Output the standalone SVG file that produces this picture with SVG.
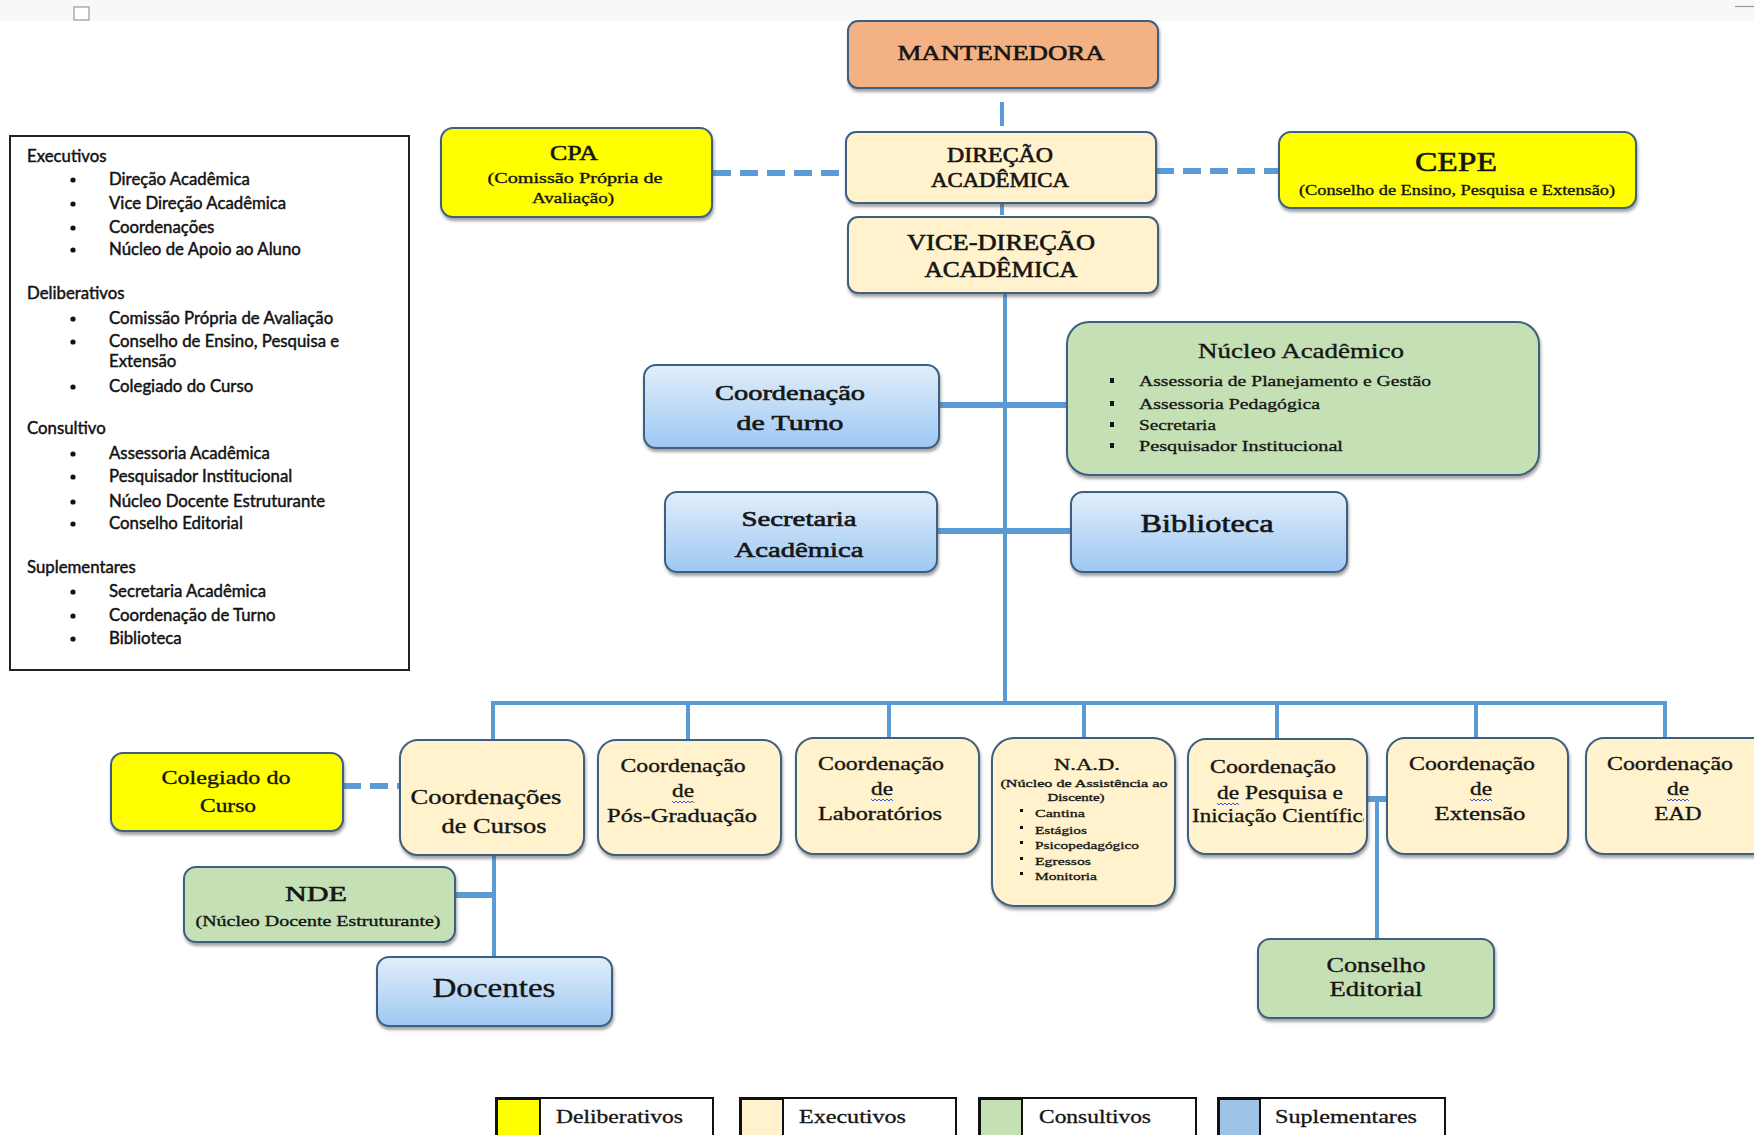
<svg xmlns="http://www.w3.org/2000/svg" width="1754" height="1135" viewBox="0 0 1754 1135">
<style>
.n{stroke:#3d5f82;stroke-width:2;filter:url(#sh)}
.y{fill:#ffff00}.c{fill:#fff2cc}.g{fill:#c5e0b4}.bl{fill:url(#blue)}.s{fill:#f4b183}
.t{font-family:"Liberation Serif","Times New Roman",serif;fill:#151515;text-anchor:middle;stroke:#151515;stroke-width:0.35}
.tb{stroke:#151515;stroke-width:0.6}
.tl{font-family:"Liberation Serif","Times New Roman",serif;fill:#151515;stroke:#151515;stroke-width:0.3}
.ln{stroke:#5b9bd5;stroke-width:4;fill:none}
.lw{stroke:#5b9bd5;stroke-width:6;fill:none}
.dash{stroke:#5b9bd5;stroke-width:6;stroke-dasharray:18 9;fill:none}
.lg{font-family:Lato,"Liberation Sans",sans-serif;font-size:16.8px;fill:#111;stroke:#111;stroke-width:0.45}
.wv{stroke:#3355dd;stroke-width:1;fill:none}
.key{fill:#fff;stroke:#111;stroke-width:2}
</style>
<defs>
<linearGradient id="blue" x1="0" y1="0" x2="0" y2="1">
<stop offset="0" stop-color="#e1eefb"/>
<stop offset="1" stop-color="#9ec8f2"/>
</linearGradient>
<filter id="sh" x="-10%" y="-10%" width="120%" height="130%">
<feDropShadow dx="1" dy="3" stdDeviation="1.5" flood-color="#444" flood-opacity="0.5"/>
</filter>
<clipPath id="clipPq"><rect x="1189" y="741" width="175" height="112"/></clipPath>
</defs>
<rect x="0" y="0" width="1754" height="1135" fill="#fff"/>
<rect x="0" y="0" width="1754" height="21" fill="#f8f8f8"/>
<rect x="74" y="7" width="15" height="13" fill="#fff" stroke="#999" stroke-width="1.2"/>
<line x1="1735" y1="6.5" x2="1754" y2="6.5" stroke="#999" stroke-width="1.2"/>

<g id="legenda">
<rect x="10" y="136" width="399" height="534" fill="#fff" stroke="#222" stroke-width="2"/>
<text class="lg" x="27" y="162">Executivos</text>
<circle cx="73" cy="180" r="2.6" fill="#111"/><text class="lg" x="109" y="185">Direção Acadêmica</text>
<circle cx="73" cy="204" r="2.6" fill="#111"/><text class="lg" x="109" y="209">Vice Direção Acadêmica</text>
<circle cx="73" cy="228" r="2.6" fill="#111"/><text class="lg" x="109" y="233">Coordenações</text>
<circle cx="73" cy="250" r="2.6" fill="#111"/><text class="lg" x="109" y="255">Núcleo de Apoio ao Aluno</text>
<text class="lg" x="27" y="299">Deliberativos</text>
<circle cx="73" cy="319" r="2.6" fill="#111"/><text class="lg" x="109" y="324">Comissão Própria de Avaliação</text>
<circle cx="73" cy="342" r="2.6" fill="#111"/><text class="lg" x="109" y="347">Conselho de Ensino, Pesquisa e</text>
<text class="lg" x="109" y="367">Extensão</text>
<circle cx="73" cy="387" r="2.6" fill="#111"/><text class="lg" x="109" y="392">Colegiado do Curso</text>
<text class="lg" x="27" y="434">Consultivo</text>
<circle cx="73" cy="454" r="2.6" fill="#111"/><text class="lg" x="109" y="459">Assessoria Acadêmica</text>
<circle cx="73" cy="477" r="2.6" fill="#111"/><text class="lg" x="109" y="482">Pesquisador Institucional</text>
<circle cx="73" cy="502" r="2.6" fill="#111"/><text class="lg" x="109" y="507">Núcleo Docente Estruturante</text>
<circle cx="73" cy="524" r="2.6" fill="#111"/><text class="lg" x="109" y="529">Conselho Editorial</text>
<text class="lg" x="27" y="573">Suplementares</text>
<circle cx="73" cy="592" r="2.6" fill="#111"/><text class="lg" x="109" y="597">Secretaria Acadêmica</text>
<circle cx="73" cy="616" r="2.6" fill="#111"/><text class="lg" x="109" y="621">Coordenação de Turno</text>
<circle cx="73" cy="639" r="2.6" fill="#111"/><text class="lg" x="109" y="644">Biblioteca</text>
</g>

<g id="conectores">
<line class="ln" x1="1002" y1="102" x2="1002" y2="126"/>
<line class="ln" x1="1002" y1="203" x2="1002" y2="215"/>
<line class="dash" x1="713" y1="173" x2="846" y2="173"/>
<line class="dash" x1="1156" y1="171" x2="1279" y2="171"/>
<line class="ln" x1="1005" y1="293" x2="1005" y2="705"/>
<line class="lw" x1="939" y1="405" x2="1067" y2="405"/>
<line class="lw" x1="937" y1="531" x2="1071" y2="531"/>
<line class="ln" x1="491" y1="703" x2="1667" y2="703"/>
<line class="ln" x1="493" y1="703" x2="493" y2="740"/>
<line class="ln" x1="688" y1="703" x2="688" y2="740"/>
<line class="ln" x1="889" y1="703" x2="889" y2="738"/>
<line class="ln" x1="1084" y1="703" x2="1084" y2="738"/>
<line class="ln" x1="1277" y1="703" x2="1277" y2="740"/>
<line class="ln" x1="1476" y1="703" x2="1476" y2="738"/>
<line class="ln" x1="1665" y1="703" x2="1665" y2="738"/>
<line class="dash" x1="343" y1="786" x2="400" y2="786"/>
<line class="ln" x1="494" y1="855" x2="494" y2="957"/>
<line class="lw" x1="455" y1="895" x2="494" y2="895"/>
<line class="lw" x1="1367" y1="799" x2="1387" y2="799"/>
<line class="ln" x1="1377" y1="799" x2="1377" y2="939"/>
</g>

<g id="mantenedora">
<rect class="n s" x="848" y="21" width="310" height="67" rx="10"/>
<text class="t tb" x="1001" y="60" font-size="22" textLength="207" lengthAdjust="spacingAndGlyphs">MANTENEDORA</text>
</g>
<g id="direcao">
<rect class="n c" x="846" y="132" width="310" height="71" rx="10"/>
<text class="t tb" x="1000" y="162" font-size="20" textLength="106" lengthAdjust="spacingAndGlyphs">DIREÇÃO</text>
<text class="t tb" x="1000" y="187" font-size="20" textLength="138" lengthAdjust="spacingAndGlyphs">ACADÊMICA</text>
</g>
<g id="vice-direcao">
<rect class="n c" x="848" y="217" width="310" height="76" rx="10"/>
<text class="t tb" x="1001" y="250" font-size="23" textLength="188" lengthAdjust="spacingAndGlyphs">VICE-DIREÇÃO</text>
<text class="t tb" x="1001" y="277" font-size="23" textLength="153" lengthAdjust="spacingAndGlyphs">ACADÊMICA</text>
</g>
<g id="cpa">
<rect class="n y" x="441" y="128" width="271" height="89" rx="12"/>
<text class="t tb" x="574" y="160" font-size="22" textLength="48" lengthAdjust="spacingAndGlyphs">CPA</text>
<text class="t" x="575" y="183" font-size="15" textLength="175" lengthAdjust="spacingAndGlyphs">(Comissão Própria de</text>
<text class="t" x="573" y="203" font-size="15" textLength="82" lengthAdjust="spacingAndGlyphs">Avaliação)</text>
</g>
<g id="cepe">
<rect class="n y" x="1279" y="132" width="357" height="76" rx="12"/>
<text class="t tb" x="1456" y="171" font-size="28" textLength="82" lengthAdjust="spacingAndGlyphs">CEPE</text>
<text class="t" x="1457" y="195" font-size="15" textLength="316" lengthAdjust="spacingAndGlyphs">(Conselho de Ensino, Pesquisa e Extensão)</text>
</g>
<g id="coord-turno">
<rect class="n bl" x="644" y="365" width="295" height="83" rx="12"/>
<text class="t tb" x="790" y="400" font-size="22" textLength="150" lengthAdjust="spacingAndGlyphs">Coordenação</text>
<text class="t tb" x="790" y="430" font-size="22" textLength="107" lengthAdjust="spacingAndGlyphs">de Turno</text>
</g>
<g id="nucleo-academico">
<rect class="n g" x="1067" y="322" width="472" height="153" rx="22"/>
<text class="t" x="1301" y="358" font-size="21" textLength="206" lengthAdjust="spacingAndGlyphs">Núcleo Acadêmico</text>
<rect x="1110" y="378" width="4" height="5" fill="#111"/>
<text class="tl" x="1139" y="386" font-size="15" textLength="292" lengthAdjust="spacingAndGlyphs">Assessoria de Planejamento e Gestão</text>
<rect x="1110" y="401" width="4" height="5" fill="#111"/>
<text class="tl" x="1139" y="409" font-size="15" textLength="181" lengthAdjust="spacingAndGlyphs">Assessoria Pedagógica</text>
<rect x="1110" y="422" width="4" height="5" fill="#111"/>
<text class="tl" x="1139" y="430" font-size="15" textLength="77" lengthAdjust="spacingAndGlyphs">Secretaria</text>
<rect x="1110" y="443" width="4" height="5" fill="#111"/>
<text class="tl" x="1139" y="451" font-size="15" textLength="204" lengthAdjust="spacingAndGlyphs">Pesquisador Institucional</text>
</g>
<g id="secretaria">
<rect class="n bl" x="665" y="492" width="272" height="80" rx="12"/>
<text class="t tb" x="799" y="526" font-size="22" textLength="115" lengthAdjust="spacingAndGlyphs">Secretaria</text>
<text class="t tb" x="799" y="557" font-size="22" textLength="129" lengthAdjust="spacingAndGlyphs">Acadêmica</text>
</g>
<g id="biblioteca">
<rect class="n bl" x="1071" y="492" width="276" height="80" rx="12"/>
<text class="t tb" x="1207" y="532" font-size="26" textLength="133" lengthAdjust="spacingAndGlyphs">Biblioteca</text>
</g>
<g id="colegiado">
<rect class="n y" x="111" y="753" width="232" height="78" rx="12"/>
<text class="t" x="226" y="784" font-size="19" textLength="129" lengthAdjust="spacingAndGlyphs">Colegiado do</text>
<text class="t" x="228" y="812" font-size="19" textLength="56" lengthAdjust="spacingAndGlyphs">Curso</text>
</g>
<g id="coord-cursos">
<rect class="n c" x="400" y="740" width="184" height="115" rx="18"/>
<text class="t" x="486" y="804" font-size="21" textLength="151" lengthAdjust="spacingAndGlyphs">Coordenações</text>
<text class="t" x="494" y="833" font-size="21" textLength="105" lengthAdjust="spacingAndGlyphs">de Cursos</text>
</g>
<g id="coord-pos">
<rect class="n c" x="598" y="740" width="183" height="115" rx="18"/>
<text class="t" x="683" y="772" font-size="19" textLength="125" lengthAdjust="spacingAndGlyphs">Coordenação</text>
<text class="t" x="683" y="797" font-size="19" textLength="22" lengthAdjust="spacingAndGlyphs">de</text>
<path class="wv" d="M672 801 l2 2 l2 -2 l2 2 l2 -2 l2 2 l2 -2 l2 2 l2 -2 l2 2 l2 -2 l2 2"/>
<text class="t" x="682" y="822" font-size="19" textLength="150" lengthAdjust="spacingAndGlyphs">Pós-Graduação</text>
</g>
<g id="coord-lab">
<rect class="n c" x="796" y="738" width="183" height="116" rx="18"/>
<text class="t" x="881" y="770" font-size="19" textLength="126" lengthAdjust="spacingAndGlyphs">Coordenação</text>
<text class="t" x="882" y="795" font-size="19" textLength="22" lengthAdjust="spacingAndGlyphs">de</text>
<path class="wv" d="M871 799 l2 2 l2 -2 l2 2 l2 -2 l2 2 l2 -2 l2 2 l2 -2 l2 2 l2 -2 l2 2"/>
<text class="t" x="880" y="820" font-size="19" textLength="124" lengthAdjust="spacingAndGlyphs">Laboratórios</text>
</g>
<g id="nad">
<rect class="n c" x="992" y="738" width="183" height="168" rx="22"/>
<text class="t" x="1087" y="770" font-size="17" textLength="66" lengthAdjust="spacingAndGlyphs">N.A.D.</text>
<text class="t" x="1084" y="787" font-size="11" textLength="167" lengthAdjust="spacingAndGlyphs">(Núcleo de Assistência ao</text>
<text class="t" x="1076" y="801" font-size="11" textLength="57" lengthAdjust="spacingAndGlyphs">Discente)</text>
<rect x="1020" y="809" width="3" height="3" fill="#111"/>
<text class="tl tb" x="1035" y="817" font-size="11" textLength="50" lengthAdjust="spacingAndGlyphs">Cantina</text>
<rect x="1020" y="826" width="3" height="3" fill="#111"/>
<text class="tl tb" x="1035" y="834" font-size="11" textLength="52" lengthAdjust="spacingAndGlyphs">Estágios</text>
<rect x="1020" y="841" width="3" height="3" fill="#111"/>
<text class="tl tb" x="1035" y="849" font-size="11" textLength="104" lengthAdjust="spacingAndGlyphs">Psicopedagógico</text>
<rect x="1020" y="857" width="3" height="3" fill="#111"/>
<text class="tl tb" x="1035" y="865" font-size="11" textLength="56" lengthAdjust="spacingAndGlyphs">Egressos</text>
<rect x="1020" y="872" width="3" height="3" fill="#111"/>
<text class="tl tb" x="1035" y="880" font-size="11" textLength="62" lengthAdjust="spacingAndGlyphs">Monitoria</text>
</g>
<g id="coord-pesquisa">
<rect class="n c" x="1188" y="739" width="179" height="115" rx="18"/>
<text class="t" x="1273" y="773" font-size="19" textLength="126" lengthAdjust="spacingAndGlyphs">Coordenação</text>
<text class="t" x="1280" y="799" font-size="19" textLength="126" lengthAdjust="spacingAndGlyphs">de Pesquisa e</text>
<path class="wv" d="M1217 803 l2 2 l2 -2 l2 2 l2 -2 l2 2 l2 -2 l2 2 l2 -2 l2 2 l2 -2 l2 2"/>
<text class="tl" x="1192" y="822" font-size="19" textLength="181" lengthAdjust="spacingAndGlyphs" clip-path="url(#clipPq)">Iniciação Científica</text>
</g>
<g id="coord-extensao">
<rect class="n c" x="1387" y="738" width="181" height="116" rx="18"/>
<text class="t" x="1472" y="770" font-size="19" textLength="126" lengthAdjust="spacingAndGlyphs">Coordenação</text>
<text class="t" x="1481" y="795" font-size="19" textLength="22" lengthAdjust="spacingAndGlyphs">de</text>
<path class="wv" d="M1470 799 l2 2 l2 -2 l2 2 l2 -2 l2 2 l2 -2 l2 2 l2 -2 l2 2 l2 -2 l2 2"/>
<text class="t" x="1480" y="820" font-size="19" textLength="91" lengthAdjust="spacingAndGlyphs">Extensão</text>
</g>
<g id="coord-ead">
<rect class="n c" x="1586" y="738" width="190" height="116" rx="18"/>
<text class="t" x="1670" y="770" font-size="19" textLength="126" lengthAdjust="spacingAndGlyphs">Coordenação</text>
<text class="t" x="1678" y="795" font-size="19" textLength="22" lengthAdjust="spacingAndGlyphs">de</text>
<path class="wv" d="M1667 799 l2 2 l2 -2 l2 2 l2 -2 l2 2 l2 -2 l2 2 l2 -2 l2 2 l2 -2 l2 2"/>
<text class="t" x="1678" y="820" font-size="19" textLength="47" lengthAdjust="spacingAndGlyphs">EAD</text>
</g>
<g id="nde">
<rect class="n g" x="184" y="867" width="271" height="75" rx="12"/>
<text class="t tb" x="316" y="901" font-size="22" textLength="62" lengthAdjust="spacingAndGlyphs">NDE</text>
<text class="t" x="318" y="926" font-size="15" textLength="245" lengthAdjust="spacingAndGlyphs">(Núcleo Docente Estruturante)</text>
</g>
<g id="docentes">
<rect class="n bl" x="377" y="957" width="235" height="69" rx="12"/>
<text class="t" x="494" y="997" font-size="27" textLength="123" lengthAdjust="spacingAndGlyphs">Docentes</text>
</g>
<g id="conselho-editorial">
<rect class="n g" x="1258" y="939" width="236" height="79" rx="12"/>
<text class="t" x="1376" y="972" font-size="21" textLength="99" lengthAdjust="spacingAndGlyphs">Conselho</text>
<text class="t" x="1376" y="996" font-size="21" textLength="93" lengthAdjust="spacingAndGlyphs">Editorial</text>
</g>

<g id="legenda-cores">
<rect class="key" x="496" y="1098" width="217" height="50"/>
<rect x="497" y="1099" width="43" height="40" fill="#ffff00" stroke="#111" stroke-width="2"/>
<text class="tl" x="556" y="1123" font-size="18" textLength="127" lengthAdjust="spacingAndGlyphs">Deliberativos</text>
<rect class="key" x="740" y="1098" width="216" height="50"/>
<rect x="741" y="1099" width="42" height="40" fill="#fff2cc" stroke="#111" stroke-width="2"/>
<text class="tl" x="799" y="1123" font-size="18" textLength="107" lengthAdjust="spacingAndGlyphs">Executivos</text>
<rect class="key" x="979" y="1098" width="217" height="50"/>
<rect x="980" y="1099" width="42" height="40" fill="#c5e0b4" stroke="#111" stroke-width="2"/>
<text class="tl" x="1039" y="1123" font-size="18" textLength="112" lengthAdjust="spacingAndGlyphs">Consultivos</text>
<rect class="key" x="1218" y="1098" width="227" height="50"/>
<rect x="1219" y="1099" width="41" height="40" fill="#9dc3e6" stroke="#111" stroke-width="2"/>
<text class="tl" x="1275" y="1123" font-size="18" textLength="142" lengthAdjust="spacingAndGlyphs">Suplementares</text>
</g>
</svg>
